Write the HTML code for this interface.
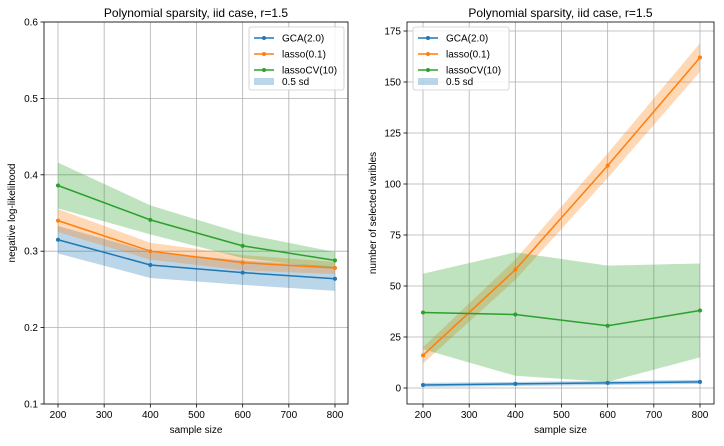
<!DOCTYPE html>
<html><head><meta charset="utf-8"><style>
body{margin:0;background:#fff;font-family:"Liberation Sans","DejaVu Sans",sans-serif}
</style></head><body>
<svg id="c" width="724" height="441" xmlns="http://www.w3.org/2000/svg" font-family="Liberation Sans, DejaVu Sans, sans-serif"></svg>
<script>
const xs=[200,400,600,800];
const xTicks=[200,300,400,500,600,700,800];
const leftYTicks=[0.1,0.2,0.3,0.4,0.5,0.6];
const rightYTicks=[0,25,50,75,100,125,150,175];
const seriesNames=["GCA(2.0)","lasso(0.1)","lassoCV(10)"];
const colors=["#1f77b4","#ff7f0e","#2ca02c"];
const leftGCA=[0.315,0.282,0.272,0.264];
const leftGCAsd=[0.018,0.017,0.016,0.016];
const leftLasso=[0.340,0.300,0.285,0.278];
const leftLassoSd=[0.015,0.011,0.010,0.008];
const leftCV=[0.386,0.341,0.307,0.288];
const leftCVsd=[0.030,0.019,0.016,0.011];
const rightGCA=[1.5,2,2.5,3];
const rightGCAsd=[1,1,1,1];
const rightLasso=[16,58,109,162];
const rightLassoSd=[4,5,6,7];
const rightCV=[37,36,30.5,38];
const rightCVlo=[19,6,3,15];
const rightCVhi=[56,66.5,60,61];

const svg=document.getElementById('c');
const NS="http://www.w3.org/2000/svg";
function el(t,a,p){const e=document.createElementNS(NS,t);for(const k in a)e.setAttribute(k,a[k]);(p||svg).appendChild(e);return e;}

function panel(opt){
  const g=el('g',{});
  
  
  const X=v=>opt.x0+(v-200)*(opt.x1-opt.x0)/600;
  const Y=v=>opt.yb-(v-opt.vb)*(opt.yt-opt.yb)/(opt.vt-opt.vb)*-1*-1;
  const Yf=v=>opt.ya+(v-opt.va)*(opt.yc-opt.ya)/(opt.vc-opt.va);
  // grid
  xTicks.forEach(t=>{const l=el('line',{x1:X(t),x2:X(t),y1:opt.top,y2:opt.bot,stroke:'#b0b0b0','stroke-width':0.8},g);
    const tx=el('text',{x:X(t),y:opt.bot+14,'font-size':10,'text-anchor':'middle',fill:'#000'},g);tx.textContent=t;
    el('line',{x1:X(t),x2:X(t),y1:opt.bot,y2:opt.bot+3.5,stroke:'#000','stroke-width':0.8},g);});
  opt.yTicks.forEach(t=>{const y=Yf(t);const l=el('line',{x1:opt.left,x2:opt.right,y1:y,y2:y,stroke:'#b0b0b0','stroke-width':0.8},g);
    const tx=el('text',{x:opt.left-6,y:y+3.5,'font-size':10,'text-anchor':'end',fill:'#000'},g);tx.textContent=opt.fmt(t);
    el('line',{x1:opt.left-3.5,x2:opt.left,y1:y,y2:y,stroke:'#000','stroke-width':0.8},g);});
  // bands
  opt.series.forEach((s,i)=>{
    let pts=xs.map((x,j)=>X(x)+','+Yf(s.hi[j])).join(' ')+' '+xs.slice().reverse().map((x,jj)=>{const j=xs.length-1-jj;return X(x)+','+Yf(s.lo[j]);}).join(' ');
    const p=el('polygon',{points:pts,fill:colors[i],'fill-opacity':0.3},g);
    
  });
  opt.series.forEach((s,i)=>{
    const pl=el('polyline',{points:xs.map((x,j)=>X(x)+','+Yf(s.v[j])).join(' '),fill:'none',stroke:colors[i],'stroke-width':1.5},g);
    
    xs.forEach((x,j)=>{const c=el('circle',{cx:X(x),cy:Yf(s.v[j]),r:2,fill:colors[i]},g);});
  });
  const fr=el('rect',{x:opt.left,y:opt.top,width:opt.right-opt.left,height:opt.bot-opt.top,fill:'none',stroke:'#000','stroke-width':0.8},g);
  
  const ti=el('text',{x:(opt.left+opt.right)/2,y:opt.top-5,'font-size':12,'text-anchor':'middle'},g);ti.textContent='Polynomial sparsity, iid case, r=1.5';
  
  const xl=el('text',{x:(opt.left+opt.right)/2,y:opt.bot+29,'font-size':10,'text-anchor':'middle'},g);xl.textContent='sample size';
  
  const yl=el('text',{x:0,y:0,'font-size':10,'text-anchor':'middle',transform:`translate(${opt.ylx},${(opt.top+opt.bot)/2}) rotate(-90)`},g);yl.textContent=opt.ylabel;
  
  // legend
  const lg=el('g',{},g);
  el('rect',{x:opt.lx,y:27,width:opt.lw,height:63,rx:2,fill:'#fff','fill-opacity':0.85,stroke:'#ccc','stroke-width':0.8},lg);
  seriesNames.forEach((n,i)=>{const y=38+i*16;
    el('line',{x1:opt.lx+5,x2:opt.lx+25,y1:y,y2:y,stroke:colors[i],'stroke-width':1.5},lg);
    el('circle',{cx:opt.lx+15,cy:y,r:2,fill:colors[i]},lg);
    const t=el('text',{x:opt.lx+33,y:y+3.5,'font-size':10},lg);t.textContent=n;});
  el('rect',{x:opt.lx+5,y:82-4,width:20,height:7,fill:colors[0],'fill-opacity':0.3},lg);
  const t=el('text',{x:opt.lx+33,y:85,'font-size':10},lg);t.textContent='0.5 sd';
}
const band=(v,s)=>({lo:v.map((a,i)=>a-s[i]),hi:v.map((a,i)=>a+s[i])});
panel({name:'left-panel',left:44,right:348,top:22,bot:404,x0:58,x1:335,ya:404,va:0.1,yc:22,vc:0.6,
  yTicks:leftYTicks,fmt:t=>t.toFixed(1),ylx:15,ylabel:'negative log-likelihood',lx:249,lw:95,
  series:[{key:'gca',v:leftGCA,...band(leftGCA,leftGCAsd)},{key:'lasso',v:leftLasso,...band(leftLasso,leftLassoSd)},{key:'lassocv',v:leftCV,...band(leftCV,leftCVsd)}]});
panel({name:'right-panel',left:407,right:714,top:22,bot:404,x0:423,x1:700,ya:388,va:0,yc:31,vc:175,
  yTicks:rightYTicks,fmt:t=>t,ylx:376,ylabel:'number of selected varibles',lx:413,lw:96,
  series:[{key:'gca',v:rightGCA,...band(rightGCA,rightGCAsd)},{key:'lasso',v:rightLasso,...band(rightLasso,rightLassoSd)},{key:'lassocv',v:rightCV,lo:rightCVlo,hi:rightCVhi}]});
</script>
</body></html>
